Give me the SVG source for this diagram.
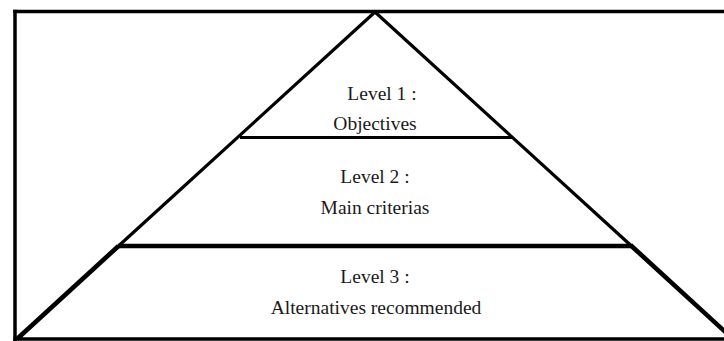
<svg xmlns="http://www.w3.org/2000/svg" width="724" height="341" viewBox="0 0 724 341">
  <style>
    .frame { fill: none; stroke: #000; stroke-width: 3.5; stroke-linecap: square; }
    .edge { fill: none; stroke: #000; stroke-linecap: butt; }
    .thin { stroke-width: 3.2; }
    .thick { stroke-width: 4.6; }
    .label { font-family: 'Liberation Serif', 'DejaVu Serif', serif; font-size: 19.5px; fill: #1a1a1a; text-anchor: middle; }
  </style>
  <rect width="724" height="341" fill="#fff"/>

  <!-- outer frame: top, left and bottom sides -->
  <g id="frame">
    <line class="frame" x1="15" y1="11.5" x2="730" y2="11.5"/>
    <line class="frame" x1="15" y1="11.5" x2="15" y2="345"/>
    <line class="frame" x1="15" y1="339" x2="730" y2="339"/>
  </g>

  <!-- pyramid sides and level dividers -->
  <g id="pyramid">
    <line class="edge thin" x1="375" y1="12" x2="118.5" y2="246"/>
    <line class="edge thin" x1="375" y1="12" x2="631.5" y2="246"/>
    <line class="edge thick" x1="118.5" y1="246" x2="17" y2="339"/>
    <line class="edge thick" x1="631.5" y1="246" x2="733" y2="339"/>
    <line class="edge thin" x1="240" y1="137.5" x2="513" y2="137.5"/>
    <line class="edge thick" x1="118" y1="246" x2="633" y2="246"/>
  </g>

  <g id="level1">
    <text class="label" font-family="Liberation Serif, serif" x="382" y="100">Level 1 :</text>
    <text class="label" font-family="Liberation Serif, serif" x="375" y="130">Objectives</text>
  </g>

  <g id="level2">
    <text class="label" font-family="Liberation Serif, serif" x="375" y="183">Level 2 :</text>
    <text class="label" font-family="Liberation Serif, serif" x="375" y="214">Main criterias</text>
  </g>

  <g id="level3">
    <text class="label" font-family="Liberation Serif, serif" x="375" y="283">Level 3 :</text>
    <text class="label" font-family="Liberation Serif, serif" x="376" y="314">Alternatives recommended</text>
  </g>
</svg>
